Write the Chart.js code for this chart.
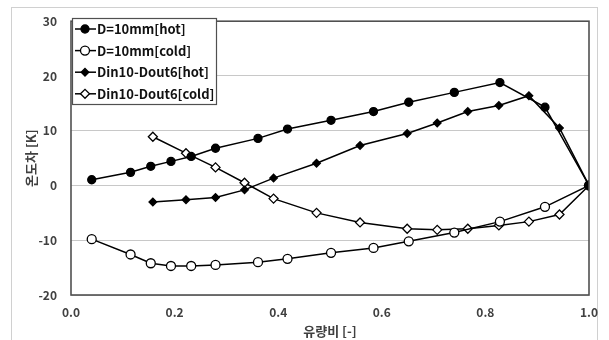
<!DOCTYPE html>
<html><head><meta charset="utf-8">
<script src="https://cdn.jsdelivr.net/npm/chart.js@4"></script>
<style>html,body{margin:0;padding:0;background:#fff}#wrap{width:609px;height:340px;position:relative}</style>
</head><body><div id="wrap"><canvas id="c" width="609" height="340"></canvas></div>
<script>
const seriesLabels = ['D=10mm[hot]', 'D=10mm[cold]', 'Din10-Dout6[hot]', 'Din10-Dout6[cold]'];
const flowRatioD = [0.040, 0.115, 0.154, 0.193, 0.232, 0.279, 0.361, 0.418, 0.502, 0.584, 0.652, 0.740, 0.828, 0.915, 1.0];
const hotD  = [1.05, 2.4, 3.5, 4.4, 5.3, 6.8, 8.6, 10.3, 11.9, 13.5, 15.2, 17.0, 18.8, 14.3, 0];
const coldD = [-9.8, -12.6, -14.2, -14.7, -14.7, -14.5, -14.0, -13.4, -12.3, -11.4, -10.2, -8.6, -6.6, -3.9, 0];
const flowRatioDin = [0.158, 0.222, 0.279, 0.335, 0.391, 0.474, 0.558, 0.649, 0.707, 0.766, 0.826, 0.884, 0.943, 1.0];
const hotDin  = [-3.0, -2.6, -2.2, -0.8, 1.35, 4.05, 7.3, 9.5, 11.4, 13.5, 14.6, 16.4, 10.5, 0];
const coldDin = [8.9, 5.9, 3.3, 0.5, -2.4, -5.0, -6.75, -7.9, -8.1, -7.9, -7.3, -6.6, -5.3, 0];
const xTitle = '유량비 [-]';
const yTitle = '온도차 [K]';

const pts = (xs, ys) => xs.map((x, i) => ({x, y: ys[i]}));
const FONT = '"Noto Sans CJK KR", "Noto Sans", sans-serif';
const TXT = '#404040';

const styles = [
  {pointStyle: 'circle', pointRadius: 4, pointBackgroundColor: '#000'},
  {pointStyle: 'circle', pointRadius: 4.5, pointBackgroundColor: '#fff'},
  {pointStyle: 'rectRot', pointRadius: 3.8, pointBackgroundColor: '#000'},
  {pointStyle: 'rectRot', pointRadius: 4.5, pointBackgroundColor: '#fff'}
];
const dataSets = [pts(flowRatioD, hotD), pts(flowRatioD, coldD), pts(flowRatioDin, hotDin), pts(flowRatioDin, coldDin)];

const datasets = dataSets.map((d, i) => Object.assign({
  label: seriesLabels[i], data: d, showLine: true,
  borderColor: '#000', borderWidth: 1.5, pointBorderColor: '#000', pointBorderWidth: 1.3,
  pointHoverRadius: 4
}, styles[i]));

const framePlugin = {
  id: 'frame',
  beforeDraw(chart) {
    const ctx = chart.ctx;
    ctx.save();
    ctx.fillStyle = '#fff';
    ctx.fillRect(0, 0, chart.width, chart.height);
    ctx.strokeStyle = '#d0d0d0';
    ctx.lineWidth = 1;
    ctx.strokeRect(11.5, 7.5, 586, 340);
    ctx.restore();
  },
  afterDatasetsDraw(chart) {
    const ctx = chart.ctx, a = chart.chartArea;
    ctx.save();
    ctx.strokeStyle = '#505050';
    ctx.lineWidth = 1.6;
    ctx.strokeRect(a.left, a.top, a.right - a.left, a.bottom - a.top);
    // legend box
    const bx = 72, by = 18, bw = 144, bh = 86;
    ctx.fillStyle = '#fff';
    ctx.fillRect(bx, by, bw, bh);
    ctx.strokeStyle = '#505050';
    ctx.lineWidth = 1.2;
    ctx.strokeRect(bx + 0.5, by + 0.5, bw, bh);
    ctx.font = 'bold 13px ' + FONT;
    ctx.textBaseline = 'middle';
    ctx.textAlign = 'left';
    chart.data.datasets.forEach((ds, i) => {
      const y = 29 + i * 21.6;
      ctx.strokeStyle = '#000';
      ctx.lineWidth = 1.5;
      ctx.beginPath(); ctx.moveTo(75, y); ctx.lineTo(96, y); ctx.stroke();
      ctx.fillStyle = ds.pointBackgroundColor;
      ctx.strokeStyle = '#000';
      ctx.lineWidth = 1.3;
      Chart.helpers.drawPoint(ctx, {pointStyle: ds.pointStyle, radius: ds.pointRadius, rotation: 0, borderWidth: 1.3}, 85, y);
      ctx.fillStyle = '#111';
      ctx.fillText(ds.label, 97, y);
    });
    ctx.restore();
  }
};

new Chart(document.getElementById('c'), {
  type: 'scatter',
  data: {datasets},
  options: {
    responsive: false, animation: false,
    layout: {padding: {top: 17, right: 20, left: 0, bottom: 0}},
    plugins: {legend: {display: false}, tooltip: {enabled: false}},
    scales: {
      x: {
        type: 'linear', min: 0, max: 1,
        afterFit(s) { s.height = 45; },
        grid: {display: false, drawTicks: false},
        border: {display: false},
        ticks: {stepSize: 0.2, padding: 10, color: TXT, font: {family: FONT, size: 12, weight: 'bold'},
          callback: v => Number(v).toFixed(1)},
        title: {display: true, text: xTitle, color: TXT, font: {family: FONT, size: 13, weight: 'bold'}, padding: {top: 0, bottom: 1}}
      },
      y: {
        type: 'linear', min: -20, max: 30,
        afterFit(s) { s.width = 71; },
        grid: {color: '#c8c8c8', lineWidth: 1, drawTicks: false},
        border: {display: false},
        ticks: {stepSize: 10, padding: 14, color: TXT, font: {family: FONT, size: 12, weight: 'bold'}},
        title: {display: true, text: yTitle, color: TXT, font: {family: FONT, size: 13, weight: 'bold'}, padding: {top: 23, bottom: 0}}
      }
    }
  },
  plugins: [framePlugin]
});
</script></body></html>
